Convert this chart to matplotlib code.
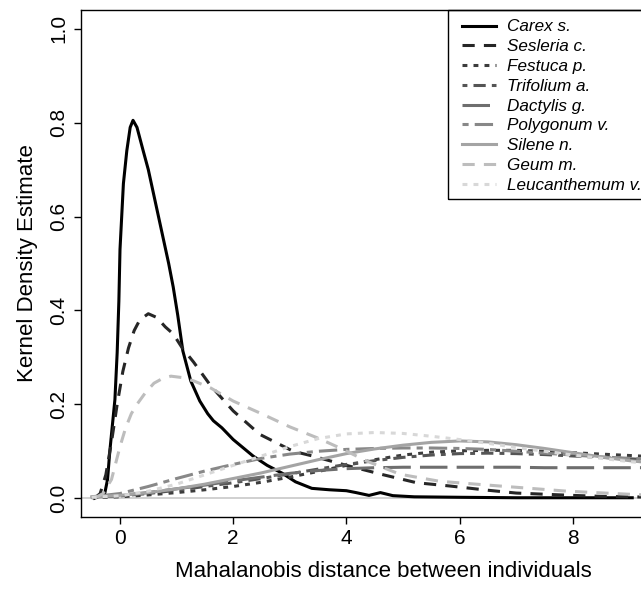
import matplotlib
matplotlib.use("Agg")
import matplotlib.pyplot as plt
from matplotlib.patches import Rectangle

plt.rcParams["font.family"] = ["Liberation Sans", "DejaVu Sans"]

# ---------- DATA ----------
species = ["Carex s.", "Sesleria c.", "Festuca p.", "Trifolium a.", "Dactylis g.",
           "Polygonum v.", "Silene n.", "Geum m.", "Leucanthemum v."]

carex_x = [-0.45, -0.27, -0.22, -0.18, -0.09, -0.05, -0.02, 0.0, 0.06, 0.12, 0.18,
           0.23, 0.3, 0.41, 0.5, 0.59, 0.68, 0.77, 0.86, 0.94, 1.02, 1.11, 1.25,
           1.41, 1.55, 1.65, 1.8, 2.0, 2.15, 2.35, 2.6, 2.87, 3.1, 3.39, 3.7, 4.0,
           4.17, 4.4, 4.6, 4.82, 5.2, 6.0, 7.0, 8.0, 9.05]
carex_y = [0.0, 0.01, 0.04, 0.1, 0.21, 0.31, 0.42, 0.53, 0.67, 0.74, 0.79,
           0.805, 0.79, 0.74, 0.70, 0.65, 0.60, 0.55, 0.50, 0.45, 0.39, 0.314, 0.25,
           0.207, 0.18, 0.165, 0.15, 0.125, 0.11, 0.09, 0.07, 0.053, 0.035, 0.021, 0.018, 0.016,
           0.012, 0.006, 0.012, 0.0055, 0.003, 0.002, 0.001, 0.001, 0.001]

sesleria_x = [-0.45, -0.35, -0.25, -0.15, -0.05, 0.05, 0.15, 0.25, 0.35, 0.5, 0.65,
              0.8, 0.94, 1.1, 1.3, 1.6, 2.0, 2.47, 3.06, 3.4, 4.0, 4.65, 5.24, 5.83,
              6.5, 7.0, 8.0, 8.5, 9.5]
sesleria_y = [0.0, 0.01, 0.05, 0.12, 0.2, 0.27, 0.32, 0.357, 0.38, 0.393, 0.385,
              0.365, 0.35, 0.32, 0.29, 0.24, 0.186, 0.136, 0.10, 0.09, 0.07, 0.05, 0.033, 0.026,
              0.017, 0.011, 0.006, 0.004, 0.002]

geum_x = [-0.45, -0.3, -0.15, 0.0, 0.1, 0.2, 0.3, 0.45, 0.6, 0.75, 0.9, 1.1, 1.3,
          1.6, 2.0, 2.5, 3.0, 3.5, 3.94, 4.36, 4.95, 5.65, 6.71, 7.9, 9.07, 9.5]
geum_y = [0.0, 0.01, 0.04, 0.11, 0.15, 0.18, 0.2, 0.225, 0.245, 0.255, 0.26, 0.257, 0.25,
          0.235, 0.207, 0.18, 0.152, 0.128, 0.104, 0.079, 0.051, 0.036, 0.026, 0.015, 0.008, 0.006]

# slower, broader curves share one grid
broad_x = [-0.5, 0.0, 0.5, 1.0, 1.5, 2.0, 2.5, 3.0, 3.5, 4.0, 4.5, 5.0, 5.5, 6.0,
           6.5, 7.0, 7.5, 8.0, 8.5, 9.0, 9.5, 10.0]
festuca_y = [0.001, 0.003, 0.007, 0.012, 0.018, 0.025, 0.034, 0.045, 0.057, 0.07, 0.082,
             0.092, 0.098, 0.101, 0.102, 0.102, 0.1, 0.097, 0.094, 0.091, 0.088, 0.085]
trifolium_y = [0.002, 0.005, 0.01, 0.017, 0.025, 0.033, 0.042, 0.052, 0.062, 0.072, 0.08,
               0.087, 0.092, 0.095, 0.096, 0.095, 0.093, 0.09, 0.087, 0.084, 0.081, 0.078]
dactylis_y = [0.002, 0.006, 0.012, 0.02, 0.028, 0.037, 0.045, 0.053, 0.059, 0.063, 0.065,
              0.066, 0.066, 0.066, 0.066, 0.066, 0.065, 0.065, 0.065, 0.065, 0.065, 0.065]
polygonum_y = [0.003, 0.01, 0.025, 0.042, 0.058, 0.072, 0.085, 0.094, 0.1, 0.104, 0.106,
               0.107, 0.107, 0.106, 0.104, 0.1, 0.096, 0.092, 0.088, 0.085, 0.082, 0.079]
silene_y = [0.003, 0.006, 0.012, 0.02, 0.03, 0.042, 0.054, 0.068, 0.082, 0.095, 0.105,
            0.113, 0.119, 0.122, 0.12, 0.114, 0.106, 0.097, 0.088, 0.08, 0.074, 0.068]
leucanthemum_y = [0.002, 0.005, 0.015, 0.03, 0.05, 0.07, 0.09, 0.11, 0.127, 0.137, 0.14,
                  0.138, 0.132, 0.125, 0.117, 0.108, 0.1, 0.092, 0.085, 0.078, 0.072, 0.066]

curves = [
    (carex_x, carex_y), (sesleria_x, sesleria_y), (broad_x, festuca_y),
    (broad_x, trifolium_y), (broad_x, dactylis_y), (broad_x, polygonum_y),
    (broad_x, silene_y), (geum_x, geum_y), (broad_x, leucanthemum_y),
]

# R-like line types: solid, dashed, dotted, dotdash, longdash, twodash
colors = ["#000000", "#262626", "#3c3c3c", "#555555", "#6e6e6e",
          "#888888", "#a4a4a4", "#bdbdbd", "#d8d8d8"]
dashes = [None, (4, 3), (1.6, 2), (1.6, 2, 4, 2), (9, 3),
          (2, 2, 6, 2), None, (4, 3), (1.6, 2)]

# ---------- PLOT ----------
W, H = 641, 590
fig = plt.figure(figsize=(W / 100, H / 100), dpi=100)
left, right, top, bottom = 81, 685, 10, 517
ax = fig.add_axes([left / W, (H - bottom) / H, (right - left) / W, (bottom - top) / H])

x0_px, px_per_unit = 120, 56.6
ax.set_xlim((left - x0_px) / px_per_unit, (right - x0_px) / px_per_unit)
ax.set_ylim(-0.04, 1.04)

ax.axhline(0, color="#c8c8c8", lw=1.2, zorder=1)

for name, (xs, ys), c, d in zip(species, curves, colors, dashes):
    line, = ax.plot(xs, ys, color=c, lw=2.2, label=name, zorder=2)
    if d is not None:
        line.set_dashes(d)

ax.set_xticks([0, 2, 4, 6, 8])
ax.set_yticks([0.0, 0.2, 0.4, 0.6, 0.8, 1.0])
ax.set_yticklabels(["0.0", "0.2", "0.4", "0.6", "0.8", "1.0"], rotation=90, va="center")
ax.tick_params(direction="out", length=5, width=1, labelsize=15, pad=4)

ax.set_xlabel("Mahalanobis distance between individuals", fontsize=16, labelpad=9)
ax.set_ylabel("Kernel Density Estimate", fontsize=16, labelpad=8)

for s in ax.spines.values():
    s.set_linewidth(1)

leg = ax.legend(loc="upper left", bbox_to_anchor=(455.7 / W, 1 - 13 / H),
                bbox_transform=fig.transFigure, frameon=False,
                prop={"style": "italic", "size": 12.3}, handlelength=2.0,
                handletextpad=0.64, labelspacing=0.28, borderpad=0.38,
                borderaxespad=0)
fig.patches.append(Rectangle((448 / W, 1 - 199 / H), (700 - 448) / W, 189 / H,
                             transform=fig.transFigure, fill=False,
                             edgecolor="black", lw=1, figure=fig))

fig.savefig("out.png", dpi=100)
